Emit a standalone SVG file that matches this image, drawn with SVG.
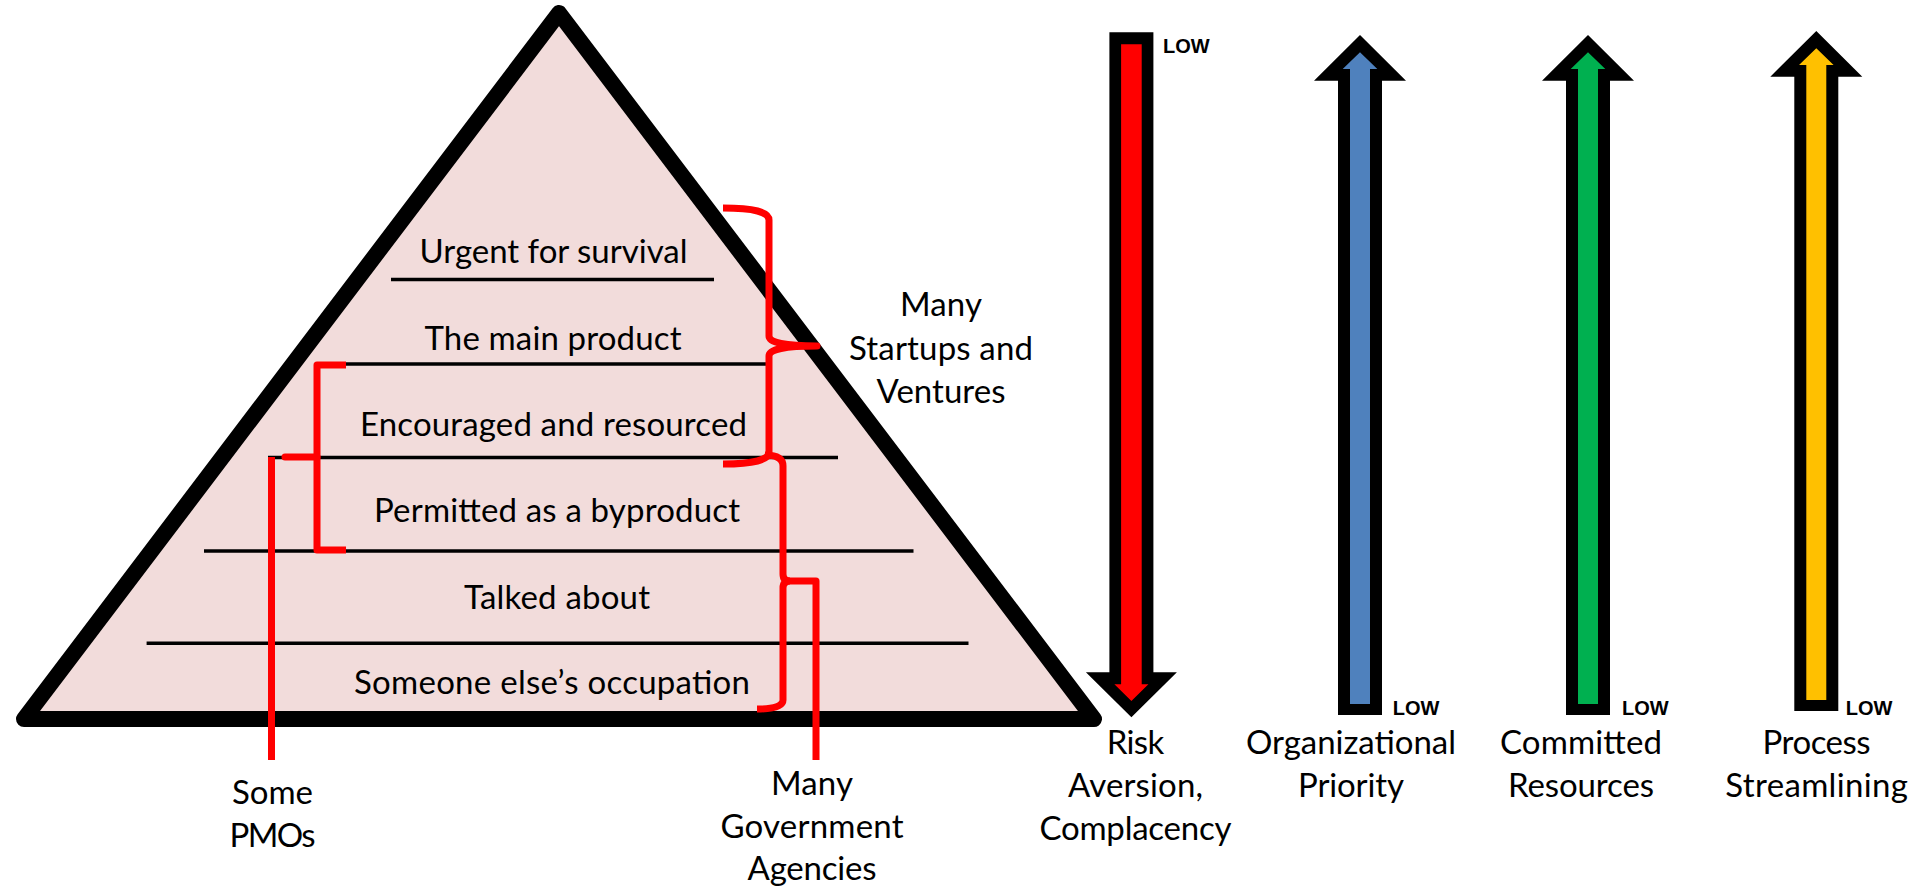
<svg xmlns="http://www.w3.org/2000/svg" xmlns:xlink="http://www.w3.org/1999/xlink" width="1915" height="887" viewBox="0 0 1915 887">
  <style>
    .lbl { font-family: Lato, "Open Sans", "Liberation Sans", sans-serif; font-size: 33px; fill: #000; text-anchor: middle; }
    .low { font-family: "Liberation Sans", Arial, sans-serif; font-size: 20px; font-weight: bold; fill: #000; }
    .tier { stroke: #000; stroke-width: 3.4; fill: none; }
    .mark { stroke: #FF0000; stroke-width: 7; fill: none; stroke-linejoin: round; }
  </style>
  <defs>
    <!-- block arrow pointing up; origin at the tip, 680 tall -->
    <g id="arrow-up">
      <polygon fill="#000" points="0,0 46,45.7 22,45.7 22,680 -22,680 -22,45.7 -46,45.7"/>
      <polygon points="0,17.3 17.3,34 10,34 10,669 -10,669 -10,34 -17.3,34"/>
    </g>
  </defs>

  <rect width="1915" height="887" fill="#FFFFFF"/>

  <!-- pyramid body -->
  <g id="pyramid">
    <polygon points="24,719 559,13 1094,719" fill="#F2DCDB" stroke="#000" stroke-width="16" stroke-linejoin="round"/>
    <line class="tier" x1="391" y1="279.5" x2="714" y2="279.5"/>
    <line class="tier" x1="346" y1="364" x2="766" y2="364"/>
    <line class="tier" x1="268" y1="457.5" x2="838" y2="457.5"/>
    <line class="tier" x1="204" y1="551" x2="913.5" y2="551"/>
    <line class="tier" x1="146.6" y1="643.3" x2="968.5" y2="643.3"/>
  </g>

  <!-- pyramid levels -->
  <g id="level-urgent"><text class="lbl" x="553.5" y="263" textLength="268">Urgent for survival</text></g>
  <g id="level-main"><text class="lbl" x="553" y="350" textLength="257">The main product</text></g>
  <g id="level-encouraged"><text class="lbl" x="553.5" y="436" textLength="387">Encouraged and resourced</text></g>
  <g id="level-permitted"><text class="lbl" x="557" y="522" textLength="366">Permitted as a byproduct</text></g>
  <g id="level-talked"><text class="lbl" x="557" y="609" textLength="186">Talked about</text></g>
  <g id="level-someone"><text class="lbl" x="552" y="694" textLength="396">Someone else’s occupation</text></g>

  <!-- group labels -->
  <g id="label-startups">
    <text class="lbl" x="941" y="316" textLength="82">Many</text>
    <text class="lbl" x="941" y="359.5" textLength="184">Startups and</text>
    <text class="lbl" x="941" y="402.5" textLength="129">Ventures</text>
  </g>
  <g id="label-pmos">
    <text class="lbl" x="272.5" y="803.5" textLength="81">Some</text>
    <text class="lbl" x="272.5" y="846.5" textLength="86">PMOs</text>
  </g>
  <g id="label-government">
    <text class="lbl" x="812" y="795" textLength="82">Many</text>
    <text class="lbl" x="812" y="838" textLength="183">Government</text>
    <text class="lbl" x="812" y="880" textLength="129">Agencies</text>
  </g>

  <!-- brackets and leader lines -->
  <g id="connectors">
    <path class="mark" d="M723,208 Q769,208 769,220 V336 Q769,346 817,346 Q769,346 769,356 V452 Q769,464 723,464"/>
    <path class="mark" d="M765,455 Q783,455 783,466 V574 Q783,581 790,581 M790,581 Q783,581 783,588 V700 Q783,709 757,709"/>
    <path class="mark" stroke-linejoin="miter" d="M786,581 H816 V760"/>
    <path class="mark" d="M346,365 H317 V550 H346"/>
    <path class="mark" stroke-linecap="round" d="M317,457 H285"/>
    <path class="mark" d="M271.5,457 V760"/>
  </g>

  <!-- trend arrows -->
  <g id="arrow-risk">
    <polygon fill="#000" points="1109.4,32.3 1153.4,32.3 1153.4,672.3 1176.9,672.3 1131.4,717.3 1085.9,672.3 1109.4,672.3"/>
    <polygon fill="#FF0000" points="1121.1,44.3 1141.7,44.3 1141.7,684.3 1148.4,684.3 1131.4,701 1114.4,684.3 1121.1,684.3"/>
    <text class="low" x="1163" y="53.3">LOW</text>
    <text class="lbl" x="1135.5" y="754" textLength="57.6">Risk</text>
    <text class="lbl" x="1135.5" y="797" textLength="135">Aversion,</text>
    <text class="lbl" x="1135.5" y="840" textLength="192">Complacency</text>
  </g>
  <g id="arrow-priority">
    <use xlink:href="#arrow-up" x="1360" y="35" fill="#4F81BD"/>
    <text class="low" x="1392.7" y="715">LOW</text>
    <text class="lbl" x="1351" y="754" textLength="210">Organizational</text>
    <text class="lbl" x="1351" y="797" textLength="106">Priority</text>
  </g>
  <g id="arrow-resources">
    <use xlink:href="#arrow-up" x="1588" y="35" fill="#00B050"/>
    <text class="low" x="1622" y="715">LOW</text>
    <text class="lbl" x="1581" y="754" textLength="162">Committed</text>
    <text class="lbl" x="1581" y="797" textLength="146">Resources</text>
  </g>
  <g id="arrow-process">
    <use xlink:href="#arrow-up" x="1816.3" y="31" fill="#FFC000"/>
    <text class="low" x="1845.7" y="715">LOW</text>
    <text class="lbl" x="1816.6" y="754" textLength="108">Process</text>
    <text class="lbl" x="1816.6" y="797" textLength="182.5">Streamlining</text>
  </g>
</svg>
